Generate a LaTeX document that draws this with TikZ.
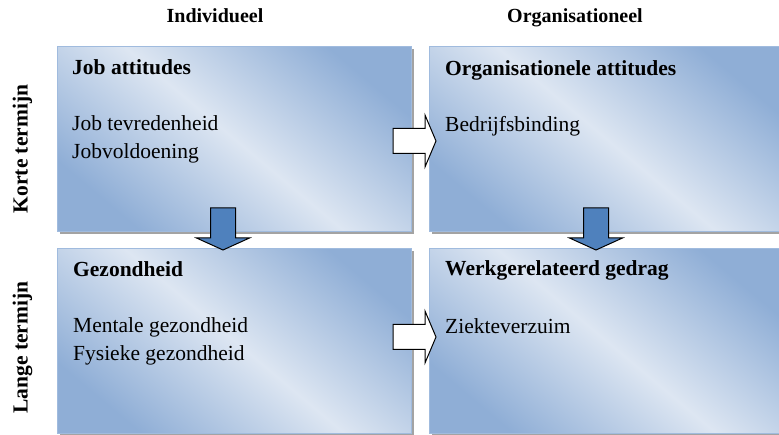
\documentclass[tikz,border=0pt]{standalone}
\usepackage{fontspec}
\setmainfont{Liberation Serif}
\usetikzlibrary{shadows}
\definecolor{boxdark}{RGB}{143,174,214}
\definecolor{boxlight}{RGB}{221,230,242}
\definecolor{boxline}{RGB}{160,187,222}
\definecolor{arrblue}{RGB}{79,129,189}
\tikzset{
  panel/.style={rectangle, draw=boxline, line width=0.8pt, anchor=north west,
    inner sep=0pt, minimum width=354pt, minimum height=185pt,
    top color=boxdark, bottom color=boxdark, middle color=boxlight,
    shading angle=-40,
    drop shadow={shadow xshift=3pt, shadow yshift=-3pt, fill=black!45, opacity=0.8}},
  head/.style={anchor=base, inner sep=0pt, font=\fontsize{20}{23}\selectfont\bfseries},
  side/.style={anchor=base, inner sep=0pt, rotate=90, font=\fontsize{21.5}{25}\selectfont\bfseries},
  title/.style={anchor=base west, inner sep=0pt, font=\fontsize{21.5}{25}\selectfont\bfseries},
  item/.style={anchor=base west, inner sep=0pt, font=\fontsize{21.5}{25}\selectfont},
  blockarrow/.style={draw=black, line width=1pt, line join=miter},
  downarrow/.pic={\path[blockarrow, fill=arrblue]
    (-12.5,0) -- (12.5,0) -- (12.5,30) -- (26.5,30) -- (0,42) -- (-26.5,30) -- (-12.5,30) -- cycle;},
  rightarrow/.pic={\path[blockarrow, fill=white]
    (0,-12.5) -- (32,-12.5) -- (32,-26) -- (43,0) -- (32,26) -- (32,12.5) -- (0,12.5) -- cycle;}
}
\begin{document}
\begin{tikzpicture}[x=1pt, y=-1pt]
\useasboundingbox (0,0) rectangle (779,435);

% column and row headings
\node[head] (hInd) at (215,22.5) {Individueel};
\node[head] (hOrg) at (575,22.5) {Organisationeel};
\node[side] (hKort) at (27.5,149) {Korte termijn};
\node[side] (hLang) at (27.5,347.5) {Lange termijn};

% the four panels
\node[panel] (b1) at (57,46) {};
\node[panel] (b2) at (429,46) {};
\node[panel] (b3) at (57,248) {};
\node[panel] (b4) at (429,248) {};

% panel texts
\node[title] (t1) at (72,75) {Job attitudes};
\node[item] (t1a) at (72,131) {Job tevredenheid};
\node[item] (t1b) at (72,158.5) {Jobvoldoening};

\node[title] (t2) at (445,76) {Organisationele attitudes};
\node[item] (t2a) at (445,132) {Bedrijfsbinding};

\node[title] (t3) at (73,277) {Gezondheid};
\node[item] (t3a) at (73,333) {Mentale gezondheid};
\node[item] (t3b) at (73,361) {Fysieke gezondheid};

\node[title] (t4) at (445,276) {Werkgerelateerd gedrag};
\node[item] (t4a) at (445,334) {Ziekteverzuim};

% block arrows between panels
\pic at (223,208) {downarrow};
\pic at (596,208) {downarrow};
\pic at (393,141) {rightarrow};
\pic at (393,337) {rightarrow};
\end{tikzpicture}
\end{document}
